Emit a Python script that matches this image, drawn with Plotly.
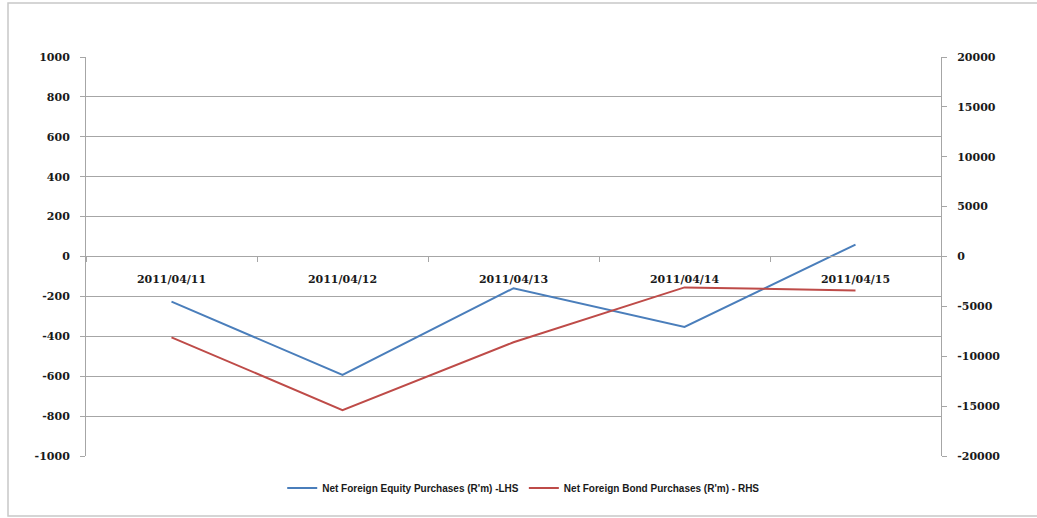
import plotly.graph_objects as go

dates = ["2011/04/11", "2011/04/12", "2011/04/13", "2011/04/14", "2011/04/15"]
equity = [-226, -594, -159, -353, 60]
bond = [-8100, -15400, -8600, -3100, -3400]

left_ticks = list(range(-1000, 1001, 200))
right_ticks = list(range(-20000, 20001, 5000))

grid = "#a6a6a6"
lab_font = dict(family="DejaVu Serif, serif", size=11, color="#1a1a1a", weight="bold")

fig = go.Figure()
fig.add_trace(go.Scatter(x=dates, y=equity, mode="lines", name="Net Foreign Equity Purchases (R'm) -LHS",
                         line=dict(color="#4a7ebb", width=2)))
fig.add_trace(go.Scatter(x=dates, y=bond, mode="lines", name="Net Foreign Bond Purchases (R'm) - RHS",
                         line=dict(color="#be4b48", width=2), yaxis="y2"))

fig.update_layout(
    width=1037, height=518,
    margin=dict(l=86, r=96, t=57, b=62),
    paper_bgcolor="white", plot_bgcolor="white",
    showlegend=True,
    legend=dict(orientation="h", x=0.2295, xanchor="left", y=-0.08, yanchor="middle",
                font=dict(family="Liberation Sans, sans-serif", size=10, color="#1a1a1a", weight="bold"),
                itemwidth=30, tracegroupgap=0, bgcolor="rgba(0,0,0,0)"),
    xaxis=dict(type="category", anchor="free", position=0.5013, showline=True, linecolor=grid, linewidth=1,
               ticks="outside", tickson="boundaries", ticklen=5, tickcolor=grid,
               showgrid=False, tickfont=lab_font, range=[-0.5, 4.5], zeroline=False,
               ticklabelstandoff=13),
    yaxis=dict(range=[-1000, 1000], tickvals=left_ticks, ticktext=[str(v) for v in left_ticks],
               showgrid=True, gridcolor=grid, gridwidth=1,
               showline=True, linecolor=grid, ticks="outside", ticklen=5, tickcolor=grid,
               zeroline=False, tickfont=lab_font, ticklabelstandoff=8),
    yaxis2=dict(range=[-20000, 20000], tickvals=right_ticks, ticktext=[str(v) for v in right_ticks],
                overlaying="y", side="right",
                showgrid=False, showline=True, linecolor=grid, ticks="outside", ticklen=5, tickcolor=grid,
                zeroline=False, tickfont=lab_font, ticklabelstandoff=8),
    shapes=[dict(type="rect", xref="paper", yref="paper", x0=-78/855, x1=(1037-86+20)/855,
                 y0=(456-516)/399, y1=(456-3)/399, line=dict(color="#c8c8c8", width=1.5), layer="below")],
)

fig.write_html("out.html")
